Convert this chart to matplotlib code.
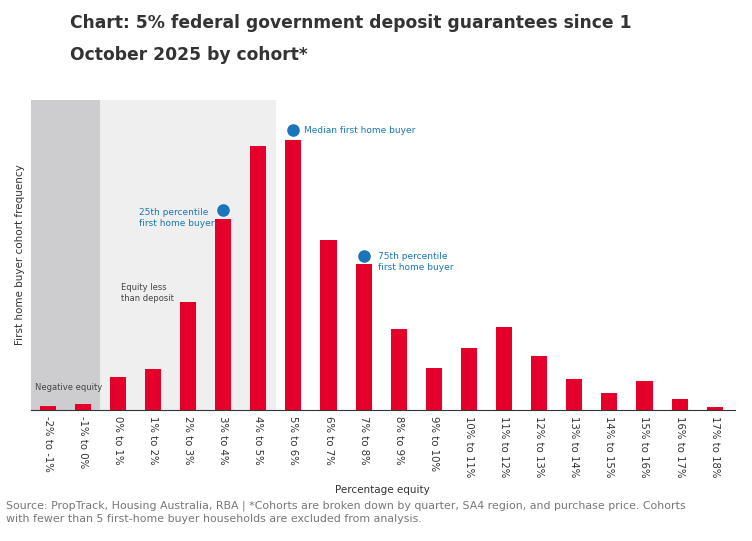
import matplotlib
matplotlib.use("Agg")
import matplotlib.pyplot as plt

categories = ["-2% to -1%", "-1% to 0%", "0% to 1%", "1% to 2%", "2% to 3%", "3% to 4%",
              "4% to 5%", "5% to 6%", "6% to 7%", "7% to 8%", "8% to 9%", "9% to 10%",
              "10% to 11%", "11% to 12%", "12% to 13%", "13% to 14%", "14% to 15%",
              "15% to 16%", "16% to 17%", "17% to 18%"]
frequency = [4, 6, 33, 41, 108, 191, 264, 270, 170, 146, 81, 42, 62, 83, 54, 31, 17, 29, 11, 3]

# percentile markers: (bar index, dot height)
markers = [(5, 200), (7, 280), (9, 154)]

RED = "#e4002b"
BLUE = "#1b75bb"

fig = plt.figure(figsize=(7.52, 5.41), dpi=100)
ax = fig.add_axes([0.041, 0.242, 0.936, 0.573])

x = list(range(len(categories)))
ax.axvspan(-0.48, 1.5, color="#cdcdcf", zorder=0, lw=0)
ax.axvspan(1.5, 6.5, color="#efeff0", zorder=0, lw=0)
ax.bar(x, frequency, width=0.46, color=RED, zorder=2)

for i, h in markers:
    ax.scatter(i, h, s=65, color=BLUE, zorder=3)

ax.text(7.3, 280, "Median first home buyer", color=BLUE, fontsize=6.5, va="center")
ax.text(2.6, 192, "25th percentile\nfirst home buyer", color=BLUE, fontsize=6.5, va="center")
ax.text(9.4, 148, "75th percentile\nfirst home buyer", color=BLUE, fontsize=6.5, va="center")
ax.text(2.1, 117, "Equity less\nthan deposit", color="#444444", fontsize=6, va="center")
ax.text(-0.35, 23, "Negative equity", color="#444444", fontsize=6, va="center")

ax.set_xlim(-0.48, 19.57)
ax.set_ylim(0, 310)
ax.set_xticks(x)
ax.set_xticklabels(categories, rotation=270, fontsize=7.3, color="#333333")
ax.tick_params(axis="x", length=0, pad=4)
ax.set_yticks([])
for s in ["top", "right", "left"]:
    ax.spines[s].set_visible(False)
ax.spines["bottom"].set_color("#333333")
ax.set_ylabel("First home buyer cohort frequency", fontsize=7.5, color="#333333", labelpad=4)
ax.set_xlabel("Percentage equity", fontsize=7.5, color="#333333", labelpad=6)

fig.text(0.093, 0.975, "Chart: 5% federal government deposit guarantees since 1\nOctober 2025 by cohort*",
         fontsize=12.3, fontweight="bold", color="#333333", va="top", linespacing=2.0)
fig.text(0.008, 0.075, "Source: PropTrack, Housing Australia, RBA | *Cohorts are broken down by quarter, SA4 region, and purchase price. Cohorts\nwith fewer than 5 first-home buyer households are excluded from analysis.",
         fontsize=7.9, color="#777777", va="top", linespacing=1.4)

fig.savefig("out.png", dpi=100)
